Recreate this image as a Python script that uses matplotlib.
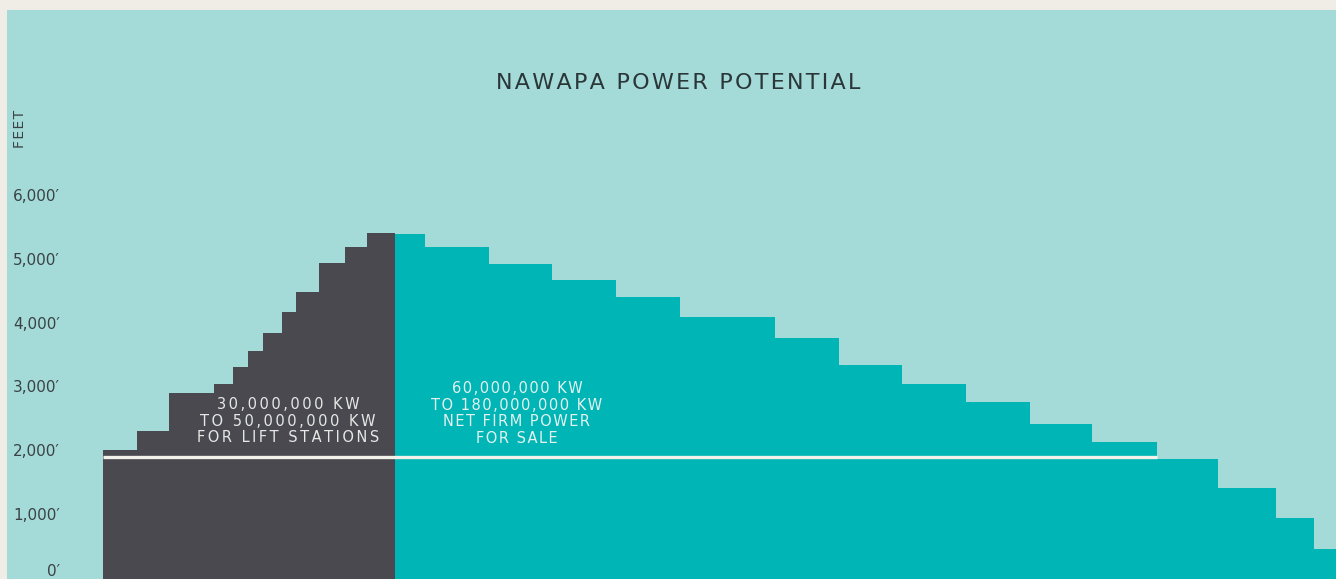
import matplotlib.pyplot as plt
import numpy as np

plt.rcParams["font.family"] = ["DejaVu Sans"]

# step profile of the system, heights in feet, x in relative distance units
lift_edges = [0.0, 0.53, 1.04, 1.75, 2.04, 2.28, 2.52, 2.81, 3.03, 3.40, 3.81, 4.15, 4.59]
lift_heights = [2030, 2320, 2920, 3060, 3330, 3580, 3860, 4190, 4510, 4960, 5210, 5430]

sale_edges = [4.59, 5.06, 6.07, 7.06, 8.07, 9.07, 10.57, 11.57, 12.56, 13.57,
              14.57, 15.56, 16.57, 17.53, 18.45, 19.04, 19.70]
sale_heights = [5420, 5210, 4950, 4700, 4430, 4120, 3790, 3360, 3060, 2780,
                2430, 2150, 1890, 1430, 960, 470]

base_level = 1915  # white line
yticks = [0, 1000, 2000, 3000, 4000, 5000, 6000]
ytick_labels = ["0\u2032", "1,000\u2032", "2,000\u2032", "3,000\u2032",
                "4,000\u2032", "5,000\u2032", "6,000\u2032"]

lift_lines = ["30,000,000 KW", "TO 50,000,000 KW", "FOR LIFT STATIONS"]
sale_lines = ["60,000,000 KW", "TO 180,000,000 KW", "NET FIRM POWER", "FOR SALE"]
title = "NAWAPA POWER POTENTIAL"

BG = "#efede6"
LIGHT = "#a4dbd9"
TEAL = "#00b5b5"
DARK = "#4b4950"
TXT = "#3a4244"


def spaced(s, sp="\u200a"):
    return sp.join(s)


W, H = 1336, 579
fig = plt.figure(figsize=(W / 100, H / 100), dpi=100, facecolor=BG)
ax = fig.add_axes([7 / W, 0, (W - 7) / W, (H - 10) / H], facecolor=LIGHT)
for s in ax.spines.values():
    s.set_visible(False)
ax.set_xticks([])
ax.set_yticks([])
ax.set_xlim(-1.51, 19.39)
ax.set_ylim(0, 8937)

ax.stairs(lift_heights, lift_edges, fill=True, color=DARK, baseline=0)
ax.stairs(sale_heights, sale_edges, fill=True, color=TEAL, baseline=0)
ax.hlines(base_level, lift_edges[0], sale_edges[12], color="#f2f1ea", lw=2.4)

tr = ax.get_yaxis_transform()
for v, lab in zip(yticks, ytick_labels):
    ax.text(0.0399, v, lab, transform=tr, ha="right",
            va="bottom" if v == 0 else "center",
            fontsize=11, color=TXT, clip_on=False)

fig.text(20 / W, 1 - 129 / H, spaced("FEET"), rotation=90, ha="center",
         va="center", fontsize=10, color=TXT)
fig.text(678 / W, 1 - 83 / H, spaced(title), ha="center", va="center",
         fontsize=16, color="#2a3638")

ax.text(2.91, 2480, "\n".join(spaced(l, "\u2006") for l in lift_lines),
        ha="center", va="center", fontsize=10.5, color="#e4e8e6", linespacing=1.1)
ax.text(6.51, 2600, "\n".join(spaced(l) for l in sale_lines),
        ha="center", va="center", fontsize=10.5, color="#e4f2ef", linespacing=1.15)

fig.savefig("out.png", dpi=100, facecolor=BG)
